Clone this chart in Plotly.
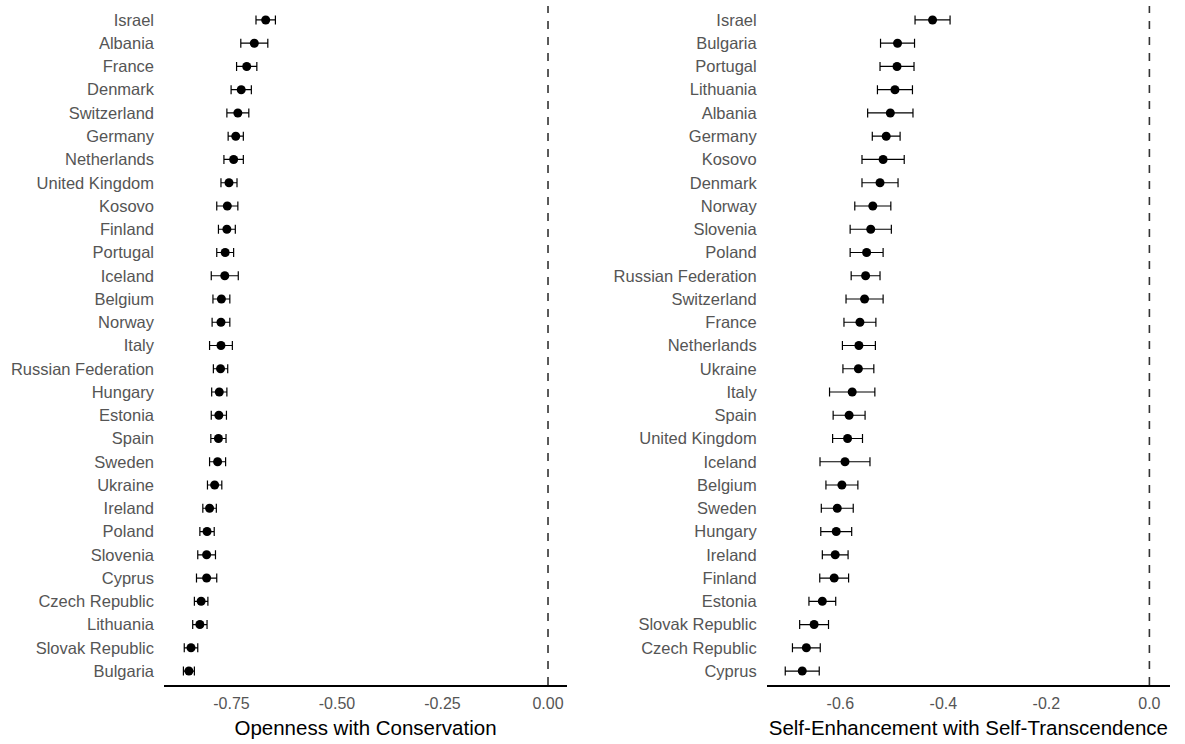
import plotly.graph_objects as go

# Panel 1: Openness with Conservation (top to bottom)
left_countries = ["Israel", "Albania", "France", "Denmark", "Switzerland", "Germany",
                  "Netherlands", "United Kingdom", "Kosovo", "Finland", "Portugal",
                  "Iceland", "Belgium", "Norway", "Italy", "Russian Federation",
                  "Hungary", "Estonia", "Spain", "Sweden", "Ukraine", "Ireland",
                  "Poland", "Slovenia", "Cyprus", "Czech Republic", "Lithuania",
                  "Slovak Republic", "Bulgaria"]
left_values = [-0.669, -0.696, -0.714, -0.727, -0.735, -0.740, -0.745, -0.756, -0.760,
               -0.761, -0.765, -0.766, -0.774, -0.775, -0.775, -0.776, -0.779, -0.780,
               -0.781, -0.783, -0.790, -0.802, -0.808, -0.809, -0.809, -0.822, -0.825,
               -0.846, -0.851]
left_errors = [0.023, 0.032, 0.024, 0.024, 0.026, 0.018, 0.023, 0.019, 0.025, 0.020,
               0.020, 0.032, 0.020, 0.021, 0.027, 0.017, 0.018, 0.018, 0.018, 0.019,
               0.017, 0.016, 0.017, 0.021, 0.024, 0.016, 0.017, 0.016, 0.013]

# Panel 2: Self-Enhancement with Self-Transcendence (top to bottom)
right_countries = ["Israel", "Bulgaria", "Portugal", "Lithuania", "Albania", "Germany",
                   "Kosovo", "Denmark", "Norway", "Slovenia", "Poland",
                   "Russian Federation", "Switzerland", "France", "Netherlands",
                   "Ukraine", "Italy", "Spain", "United Kingdom", "Iceland", "Belgium",
                   "Sweden", "Hungary", "Ireland", "Finland", "Estonia",
                   "Slovak Republic", "Czech Republic", "Cyprus"]
right_values = [-0.421, -0.489, -0.490, -0.494, -0.503, -0.511, -0.517, -0.523, -0.537,
                -0.541, -0.549, -0.551, -0.553, -0.562, -0.564, -0.565, -0.577, -0.583,
                -0.586, -0.591, -0.597, -0.606, -0.608, -0.610, -0.612, -0.635, -0.651,
                -0.666, -0.674]
right_errors = [0.034, 0.033, 0.033, 0.034, 0.044, 0.027, 0.041, 0.035, 0.035, 0.040,
                0.032, 0.028, 0.036, 0.031, 0.032, 0.030, 0.044, 0.031, 0.029, 0.0485,
                0.031, 0.031, 0.030, 0.025, 0.028, 0.026, 0.028, 0.027, 0.033]

x_titles = ["Openness with Conservation", "Self-Enhancement with Self-Transcendence"]
left_ticks = [-0.75, -0.50, -0.25, 0.00]
left_ticktext = ["-0.75", "-0.50", "-0.25", "0.00"]
right_ticks = [-0.6, -0.4, -0.2, 0.0]
right_ticktext = ["-0.6", "-0.4", "-0.2", "0.0"]

W, H = 1185, 744
FONT = "Liberation Sans, Arial, Helvetica, sans-serif"

fig = go.Figure()

fig.add_trace(go.Scatter(
    x=left_values, y=left_countries, mode="markers",
    marker=dict(color="black", size=9),
    error_x=dict(type="data", array=left_errors, color="black", thickness=1.2, width=4.5),
    xaxis="x", yaxis="y", showlegend=False, hoverinfo="x+y"))

fig.add_trace(go.Scatter(
    x=right_values, y=right_countries, mode="markers",
    marker=dict(color="black", size=9),
    error_x=dict(type="data", array=right_errors, color="black", thickness=1.2, width=4.5),
    xaxis="x2", yaxis="y2", showlegend=False, hoverinfo="x+y"))

ydom = [1 - 685 / H, 1 - 6 / H]

common_x = dict(showgrid=False, zeroline=False, showline=True, linecolor="black",
                linewidth=2, ticks="", tickfont=dict(family=FONT, size=16, color="#555555"),
                automargin=False, fixedrange=True, ticklabelstandoff=3)
common_y = dict(showgrid=False, zeroline=False, showline=False, ticks="",
                tickfont=dict(family=FONT, size=16.5, color="#555555"),
                type="category", categoryorder="array", range=[-0.6, 28.6],
                automargin=False, ticklabelstandoff=9, fixedrange=True)

fig.update_layout(
    width=W, height=H,
    margin=dict(l=0, r=0, t=0, b=0),
    paper_bgcolor="white", plot_bgcolor="white",
    xaxis=dict(common_x, domain=[164 / W, 567 / W], range=[-0.91, 0.045],
               tickvals=left_ticks, ticktext=left_ticktext, anchor="y",
               title=dict(text=x_titles[0], font=dict(family=FONT, size=20.5, color="black"),
                          standoff=9)),
    yaxis=dict(common_y, domain=ydom, anchor="x",
               categoryarray=list(reversed(left_countries))),
    xaxis2=dict(common_x, domain=[766.7 / W, 1170 / W], range=[-0.743, 0.040],
                tickvals=right_ticks, ticktext=right_ticktext, anchor="y2",
                title=dict(text=x_titles[1], font=dict(family=FONT, size=20.5, color="black"),
                           standoff=9)),
    yaxis2=dict(common_y, domain=ydom, anchor="x2",
                categoryarray=list(reversed(right_countries))),
    shapes=[
        dict(type="line", xref="x", yref="y domain", x0=0, x1=0, y0=0, y1=1,
             line=dict(color="#333333", width=1.6, dash="8px,8px"), layer="below"),
        dict(type="line", xref="x2", yref="y2 domain", x0=0, x1=0, y0=0, y1=1,
             line=dict(color="#333333", width=1.6, dash="8px,8px"), layer="below"),
    ],
)

fig.write_html("out.html", config={"displayModeBar": False},
               post_script="document.body.style.margin='0px';")
